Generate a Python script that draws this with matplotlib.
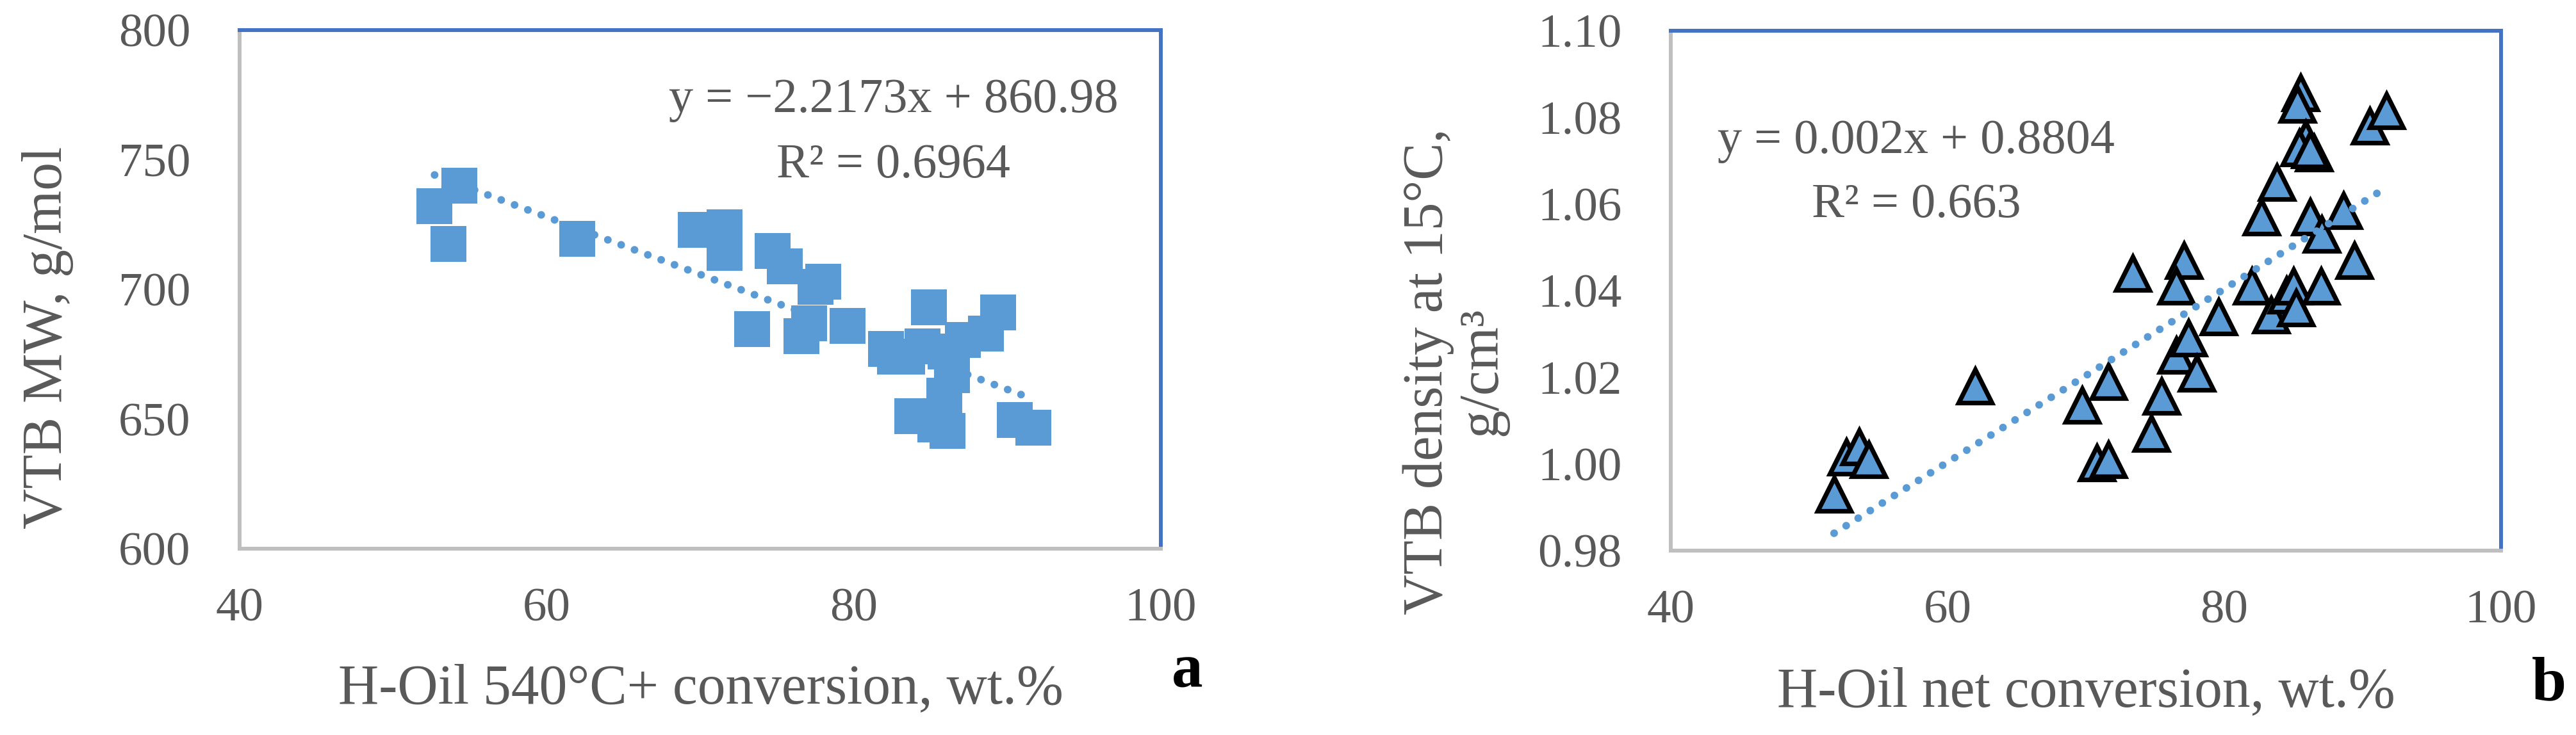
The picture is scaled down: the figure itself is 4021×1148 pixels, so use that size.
import numpy as np
import matplotlib.pyplot as plt

# panel a: VTB molecular weight vs H-Oil 540°C+ conversion
conv_a = [52.7, 54.3, 53.6, 62.0, 69.7, 71.6, 71.6, 74.7, 75.5, 78.0, 77.5,
          73.4, 76.6, 77.1, 79.6, 82.1, 82.7, 83.5, 84.5, 84.9, 89.4, 88.6,
          87.1, 86.0, 86.4, 85.9, 83.8, 85.3, 86.1, 90.5, 91.7]
mw_a = [732, 740, 717.6, 719.6, 723, 724, 714, 714.8, 709, 703, 701,
        684.7, 682, 687, 686, 677, 674, 674, 678, 693, 691, 683,
        680.5, 676, 667, 659, 651, 648, 645.5, 649.5, 646.7]
fit_a = (-2.2173, 860.98)
eq_a = ["y = \u22122.2173x + 860.98", "R\u00b2 = 0.6964"]

# panel b: VTB density vs H-Oil net conversion
conv_b = [51.8, 52.7, 53.6, 54.3, 62.0, 69.7, 71.6, 70.8, 71.6, 73.4,
          74.7, 75.45, 77.1, 76.55, 76.55, 77.4, 78.0, 79.6, 82.0, 82.7,
          83.8, 83.4, 84.5, 85.0, 85.2, 87.0, 89.4, 86.2, 87.05, 88.6,
          85.5, 85.3, 85.9, 85.4, 86.5, 86.2, 90.5, 91.7]
dens_b = [0.993, 1.0016, 1.004, 1.001, 1.018, 1.0135, 1.019, 1.0003, 1.001, 1.044,
          1.007, 1.0156, 1.047, 1.041, 1.025, 1.029, 1.021, 1.034, 1.041, 1.057,
          1.065, 1.0344, 1.039, 1.041, 1.036, 1.041, 1.047, 1.057, 1.053, 1.0585,
          1.0856, 1.083, 1.075, 1.073, 1.0717, 1.0725, 1.078, 1.0815]
fit_b = (0.002, 0.8804)
eq_b = ["y = 0.002x + 0.8804", "R\u00b2 = 0.663"]

plt.rcParams['font.family'] = ['Liberation Serif', 'DejaVu Serif']
text_gray = '#595959'
blue = '#5B9BD5'

fig = plt.figure(figsize=(40.21, 11.48), dpi=100)
ax1 = fig.add_axes([0.0930, 0.2535, 0.3576, 0.7056])
ax2 = fig.add_axes([0.6486, 0.2509, 0.3223, 0.7073])


def style_axes(ax):
    for side in ['left', 'bottom']:
        ax.spines[side].set_color('#BFBFBF')
        ax.spines[side].set_linewidth(4.3)
    for side in ['top', 'right']:
        ax.spines[side].set_color('#4472C4')
        ax.spines[side].set_linewidth(4.3)
    ax.tick_params(length=0, labelsize=54, colors=text_gray)
    ax.tick_params(axis='x', pad=44)
    ax.tick_params(axis='y', pad=55)


def dotted_trend(ax, x, coef, z):
    xs = np.array([min(x), max(x)])
    ax.plot(xs, coef[0] * xs + coef[1], color=blue, lw=8.6,
            linestyle=(0, (0.01, 1.85)), dash_capstyle='round', zorder=z)


# panel a
ax1.plot(conv_a, mw_a, 's', ms=40, color=blue, mew=0, zorder=3)
dotted_trend(ax1, conv_a, fit_a, 2)
ax1.set_xlim(40, 100)
ax1.set_ylim(600, 800)
ax1.set_xticks([40, 60, 80, 100])
ax1.set_yticks([600, 650, 700, 750, 800])
style_axes(ax1)
ax1.text(0.710, 0.842, eq_a[0], transform=ax1.transAxes, ha='center',
         va='baseline', fontsize=55, color=text_gray)
ax1.text(0.710, 0.716, eq_a[1], transform=ax1.transAxes, ha='center',
         va='baseline', fontsize=55, color=text_gray)

# panel b
ax2.plot(conv_b, dens_b, '^', ms=38, markerfacecolor=blue,
         markeredgecolor='black', mew=5.2, zorder=2)
dotted_trend(ax2, conv_b, fit_b, 3)
ax2.set_xlim(40, 100)
ax2.set_ylim(0.98, 1.10)
ax2.set_xticks([40, 60, 80, 100])
ax2.set_yticks(np.arange(0.98, 1.101, 0.02))
ax2.yaxis.set_major_formatter(plt.FormatStrFormatter('%.2f'))
style_axes(ax2)
ax2.text(0.2955, 0.765, eq_b[0], transform=ax2.transAxes, ha='center',
         va='baseline', fontsize=55, color=text_gray)
ax2.text(0.2955, 0.642, eq_b[1], transform=ax2.transAxes, ha='center',
         va='baseline', fontsize=55, color=text_gray)

# axis titles
fig.text(75 / 4021, 1 - 527 / 1148, 'VTB MW, g/mol', rotation=90,
         ha='center', va='center', fontsize=63, color=text_gray)
fig.text(2272 / 4021, 1 - 580 / 1148, 'VTB density at 15\u00b0C,\ng/cm\u00b3',
         rotation=90, ha='center', va='center', multialignment='center',
         fontsize=63, color=text_gray, linespacing=1.05)
fig.text(1094 / 4021, 50 / 1148, 'H-Oil 540\u00b0C+ conversion, wt.%',
         ha='center', va='baseline', fontsize=63, color=text_gray)
fig.text(3256 / 4021, 45 / 1148, 'H-Oil net conversion, wt.%',
         ha='center', va='baseline', fontsize=63, color=text_gray)

# panel letters
fig.text(1853 / 4021, 76 / 1148, 'a', ha='center', va='baseline',
         fontsize=70, fontweight='bold', color='black')
fig.text(3979 / 4021, 55 / 1148, 'b', ha='center', va='baseline',
         fontsize=70, fontweight='bold', color='black')

fig.savefig('out.png', dpi=100)
